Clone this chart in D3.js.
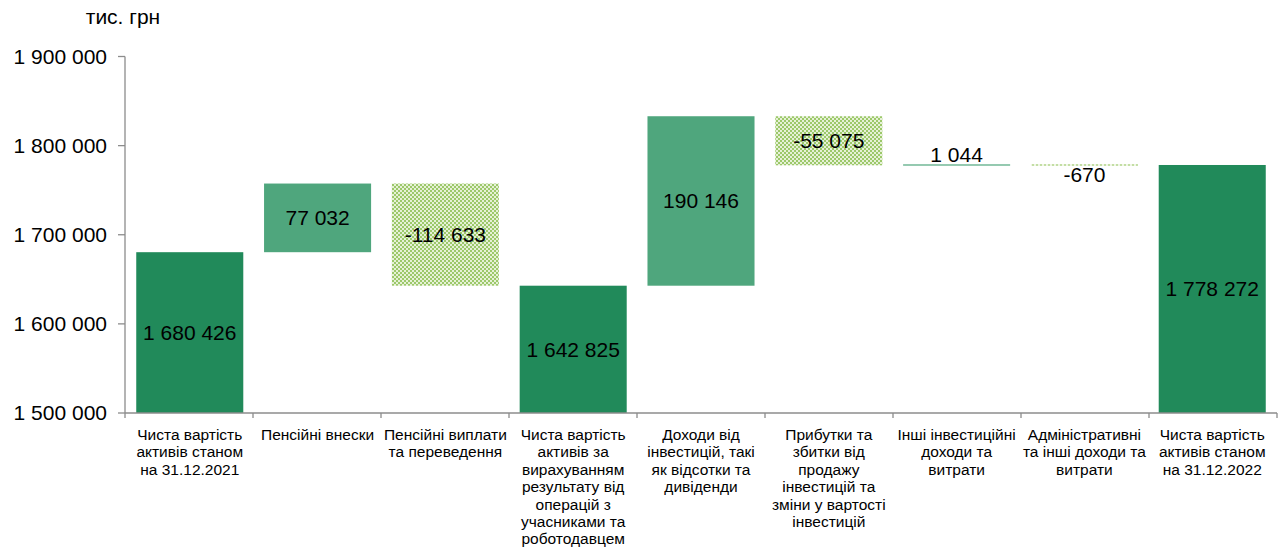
<!DOCTYPE html>
<html>
<head>
<meta charset="utf-8">
<script src="https://cdn.jsdelivr.net/npm/d3@7"></script>
<style>
  body { margin: 0; background: #fff; }
  text { font-family: "Liberation Sans", Arial, sans-serif; fill: #000; }
</style>
</head>
<body>
<div id="chart"></div>
<script>
// categories along the x axis (one array item per label line)
var categories = [
  ["Чиста вартість", "активів станом", "на 31.12.2021"],
  ["Пенсійні внески"],
  ["Пенсійні виплати", "та переведення"],
  ["Чиста вартість", "активів за", "вирахуванням", "результату від", "операцій з", "учасниками та", "роботодавцем"],
  ["Доходи від", "інвестицій, такі", "як відсотки та", "дивіденди"],
  ["Прибутки та", "збитки від", "продажу", "інвестицій та", "зміни у вартості", "інвестицій"],
  ["Інші інвестиційні", "доходи та", "витрати"],
  ["Адміністративні", "та інші доходи та", "витрати"],
  ["Чиста вартість", "активів станом", "на 31.12.2022"]
];
var values = [1680426, 77032, -114633, 1642825, 190146, -55075, 1044, -670, 1778272];
var isTotal = [true, false, false, true, false, false, false, false, true];
var yTicks = [1500000, 1600000, 1700000, 1800000, 1900000];

var width = 1283, height = 551;
var mLeft = 125, mRight = 1277, mTop = 56.5, mBottom = 413;

var fmt = d3.formatLocale({decimal: ",", thousands: " ", grouping: [3], currency: ["", ""], minus: "-"}).format(",d");

// running waterfall
var bars = [];
var run = 0;
values.forEach(function(v, i) {
  if (isTotal[i]) { bars.push({i: i, y0: 1500000, y1: v, v: v, kind: "total"}); run = v; }
  else { bars.push({i: i, y0: run, y1: run + v, v: v, kind: v >= 0 ? "up" : "down"}); run += v; }
});

var x = d3.scaleBand().domain(d3.range(categories.length)).range([mLeft, mRight]).paddingInner(0.1625).paddingOuter(0.088);
var band = (mRight - mLeft) / categories.length;
var yScale = d3.scaleLinear().domain([1500000, 1900000]).range([mBottom, mTop]);

var svg = d3.select("#chart").append("svg").attr("width", width).attr("height", height);

var defs = svg.append("defs");
var pat = defs.append("pattern").attr("id", "hatch").attr("patternUnits", "userSpaceOnUse")
  .attr("width", 4).attr("height", 4);
pat.append("rect").attr("width", 4).attr("height", 4).attr("fill", "#e6f1d6");
pat.append("rect").attr("width", 2).attr("height", 2).attr("fill", "#9cc86a");
pat.append("rect").attr("x", 2).attr("y", 2).attr("width", 2).attr("height", 2).attr("fill", "#9cc86a");

var colors = {total: "#218a5a", up: "#4fa67d", down: "url(#hatch)"};

// bars
svg.selectAll(".bar").data(bars).enter().append("rect")
  .attr("x", function(d) { return x(d.i); })
  .attr("width", x.bandwidth())
  .attr("y", function(d) { return yScale(Math.max(d.y0, d.y1)); })
  .attr("height", function(d) { return Math.max(1.2, Math.abs(yScale(d.y0) - yScale(d.y1))); })
  .attr("fill", function(d) { return colors[d.kind]; });

// value labels
svg.selectAll(".val").data(bars).enter().append("text")
  .attr("x", function(d) { return x(d.i) + x.bandwidth() / 2; })
  .attr("y", function(d) {
    var h = Math.abs(yScale(d.y0) - yScale(d.y1));
    var mid = (yScale(d.y0) + yScale(d.y1)) / 2;
    if (h < 20) return d.v >= 0 ? yScale(Math.max(d.y0, d.y1)) - 10 : yScale(Math.min(d.y0, d.y1)) + 10;
    return mid;
  })
  .attr("dy", "0.35em")
  .attr("text-anchor", "middle")
  .attr("font-size", "21px")
  .text(function(d) { return fmt(d.v); });

// y axis
var yAxis = svg.append("g");
yAxis.append("line").attr("x1", mLeft).attr("x2", mLeft).attr("y1", yScale(1900000)).attr("y2", mBottom)
  .attr("stroke", "#8c8c8c").attr("stroke-width", 1.3);
yAxis.selectAll(".yt").data(yTicks).enter().append("line")
  .attr("x1", mLeft - 7).attr("x2", mLeft).attr("y1", function(d) { return yScale(d); }).attr("y2", function(d) { return yScale(d); })
  .attr("stroke", "#8c8c8c").attr("stroke-width", 1.3);
yAxis.selectAll(".yl").data(yTicks).enter().append("text")
  .attr("x", 107).attr("y", function(d) { return yScale(d); }).attr("dy", "0.35em")
  .attr("text-anchor", "end").attr("font-size", "21px")
  .text(function(d) { return fmt(d); });

svg.append("text").attr("x", 123).attr("y", 24).attr("text-anchor", "middle").attr("font-size", "21px").text("тис. грн");

// x axis
var xAxis = svg.append("g");
xAxis.append("line").attr("x1", mLeft).attr("x2", mRight).attr("y1", mBottom).attr("y2", mBottom)
  .attr("stroke", "#8c8c8c").attr("stroke-width", 1.3);
xAxis.selectAll(".xt").data(d3.range(categories.length + 1)).enter().append("line")
  .attr("x1", function(d) { return mLeft + d * band; }).attr("x2", function(d) { return mLeft + d * band; })
  .attr("y1", mBottom).attr("y2", mBottom + 5)
  .attr("stroke", "#8c8c8c").attr("stroke-width", 1.3);

var cat = xAxis.selectAll(".cat").data(categories).enter().append("text")
  .attr("x", function(d, i) { return x(i) + x.bandwidth() / 2; })
  .attr("y", 440)
  .attr("text-anchor", "middle").attr("font-size", "15.5px");
cat.selectAll("tspan").data(function(d) { return d; }).enter().append("tspan")
  .attr("x", function() { return d3.select(this.parentNode).attr("x"); })
  .attr("dy", function(d, j) { return j === 0 ? 0 : 17.4; })
  .text(function(d) { return d; });
</script>
</body>
</html>
